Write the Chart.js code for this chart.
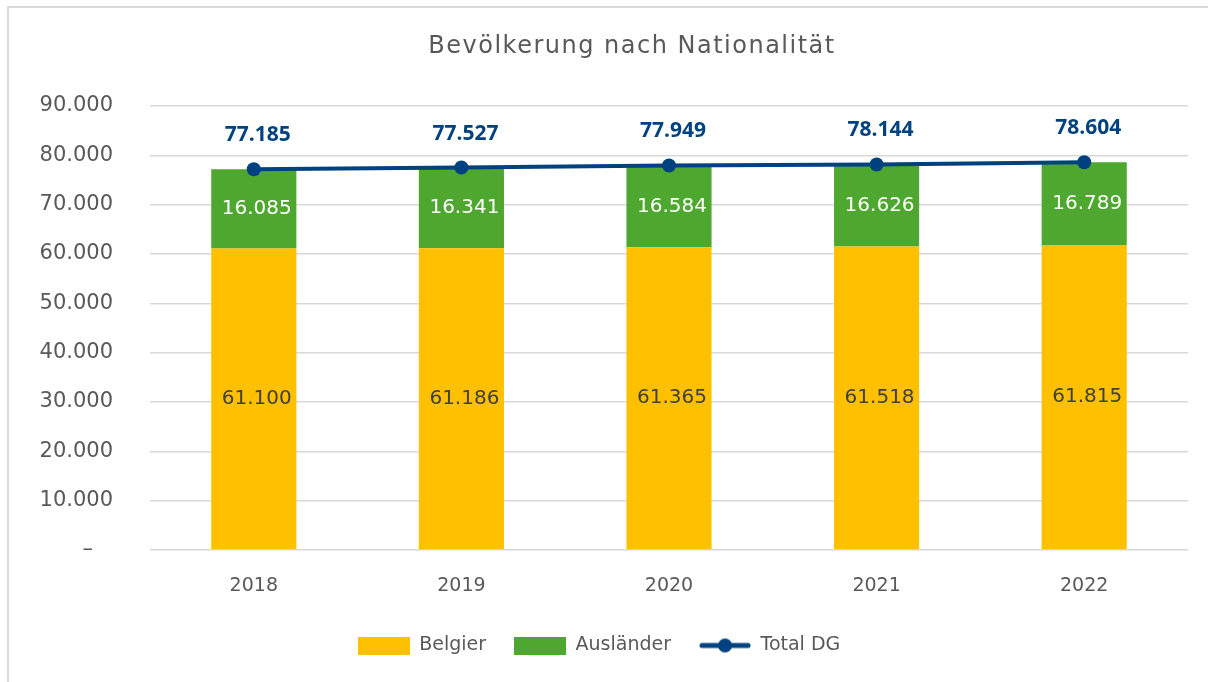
<!DOCTYPE html>
<html>
<head>
<title>Bevoelkerung nach Nationalitaet</title>
<script src="https://cdn.jsdelivr.net/npm/chart.js@4.4.1/dist/chart.umd.min.js"></script>
<style>
body { margin: 0; overflow: hidden; background: #ffffff; }
#box {
position: absolute;
left: 7px;
top: 6px;
width: 1300px;
height: 800px;
border: 2px solid #d9d9d9;
}
#wrap {
position: absolute;
left: 10px;
top: 9px;
width: 1198px;
height: 673px;
}
</style>
</head>
<body>
<div id="box"></div>
<div id="wrap"><canvas id="chart1"></canvas></div>
<script>
var years = ['2018', '2019', '2020', '2021', '2022'];
var belgier = [61100, 61186, 61365, 61518, 61815];
var auslaender = [16085, 16341, 16584, 16626, 16789];
var total = [77185, 77527, 77949, 78144, 78604];
var titleText = 'Bevölkerung nach Nationalität';

var c_yellow = '#FFC000';
var c_green = '#4EA72E';
var c_blue = '#00427F';
var c_text = '#595959';
var fontName = '"DejaVu Sans", sans-serif';
var boldFont = '"Open Sans", sans-serif';

function fmt(v) {
  return String(v).replace(/\B(?=(\d{3})+(?!\d))/g, '.');
}

// legend symbols as little canvases
function boxImg(color) {
  var c = document.createElement('canvas');
  c.width = 52; c.height = 18;
  var g = c.getContext('2d');
  g.fillStyle = color;
  g.fillRect(0, 0, 52, 18);
  return c;
}
function lineImg(color) {
  var c = document.createElement('canvas');
  c.width = 52; c.height = 18;
  var g = c.getContext('2d');
  g.strokeStyle = color;
  g.lineWidth = 5;
  g.lineCap = 'round';
  g.beginPath(); g.moveTo(3, 9); g.lineTo(49, 9); g.stroke();
  g.fillStyle = color;
  g.beginPath(); g.arc(26, 9, 7, 0, Math.PI * 2); g.fill();
  return c;
}
var legendImgs = [boxImg(c_yellow), boxImg(c_green), lineImg(c_blue)];

// title sits a bit right of the canvas center, so it is drawn by hand
var titlePlugin = {
  id: 'titlePlugin',
  afterDraw: function (chart) {
    var ctx = chart.ctx;
    ctx.save();
    ctx.font = '24px ' + fontName;
    ctx.letterSpacing = '1.5px';
    ctx.fillStyle = c_text;
    ctx.textAlign = 'center';
    ctx.textBaseline = 'middle';
    ctx.fillText(titleText, 622, 38);
    ctx.restore();
  }
};

var valueLabels = {
  id: 'valueLabels',
  afterDatasetsDraw: function (chart) {
    var ctx = chart.ctx;
    ctx.save();
    ctx.textAlign = 'center';
    ctx.textBaseline = 'middle';
    chart.data.datasets.forEach(function (ds, i) {
      var meta = chart.getDatasetMeta(i);
      meta.data.forEach(function (el, j) {
        var txt = fmt(ds.data[j]);
        if (ds.type === 'line') {
          ctx.font = 'bold 21px ' + boldFont;
          ctx.fillStyle = c_blue;
          ctx.fillText(txt, el.x + 4, el.y - 34);
        } else {
          ctx.font = '20px ' + fontName;
          ctx.fillStyle = (i === 0) ? '#404040' : '#ffffff';
          ctx.fillText(txt, el.x + 3, (el.y + el.base) / 2);
        }
      });
    });
    ctx.restore();
  }
};

var ctx = document.getElementById('chart1').getContext('2d');
var chart1 = new Chart(ctx, {
  data: {
    labels: years,
    datasets: [
      { type: 'bar', label: 'Belgier', data: belgier, backgroundColor: c_yellow, stack: 'pop',
        barPercentage: 0.41, categoryPercentage: 1, order: 1 },
      { type: 'bar', label: 'Ausländer', data: auslaender, backgroundColor: c_green, stack: 'pop',
        barPercentage: 0.41, categoryPercentage: 1, order: 1 },
      { type: 'line', label: 'Total DG', data: total, borderColor: c_blue, backgroundColor: c_blue,
        borderWidth: 4, pointRadius: 7, pointHoverRadius: 7, pointBorderWidth: 0,
        pointBackgroundColor: c_blue, stack: 'total', order: 0, tension: 0 }
    ]
  },
  options: {
    responsive: true,
    maintainAspectRatio: false,
    animation: false,
    layout: { padding: { left: 0, right: 20, top: 97, bottom: 17 } },
    plugins: {
      tooltip: { enabled: false },
      title: { display: false },
      legend: {
        position: 'bottom',
        labels: {
          color: c_text,
          font: { family: fontName, size: 19 },
          usePointStyle: true,
          pointStyleWidth: 52,
          boxHeight: 18,
          padding: 28,
          sort: function (a, b) { return a.datasetIndex - b.datasetIndex; },
          generateLabels: function (chart) {
            var items = Chart.defaults.plugins.legend.labels.generateLabels(chart);
            items.forEach(function (it) { it.pointStyle = legendImgs[it.datasetIndex]; });
            return items;
          }
        }
      }
    },
    scales: {
      x: {
        stacked: true,
        grid: { display: false, drawTicks: false },
        border: { display: false },
        ticks: { color: c_text, font: { family: fontName, size: 19 }, padding: 25 },
        afterFit: function (s) { s.height = 58; }
      },
      y: {
        stacked: true,
        min: 0,
        max: 90000,
        grid: { color: '#d9d9d9', lineWidth: 1.5, drawTicks: false },
        border: { display: false },
        ticks: {
          stepSize: 10000,
          color: c_text,
          font: { family: fontName, size: 21 },
          padding: 37,
          callback: function (v) { return v === 0 ? '–\u00a0\u00a0\u00a0' : fmt(v); }
        },
        afterFit: function (s) { s.width = 140; }
      }
    }
  },
  plugins: [valueLabels, titlePlugin]
});
</script>
</body>
</html>
